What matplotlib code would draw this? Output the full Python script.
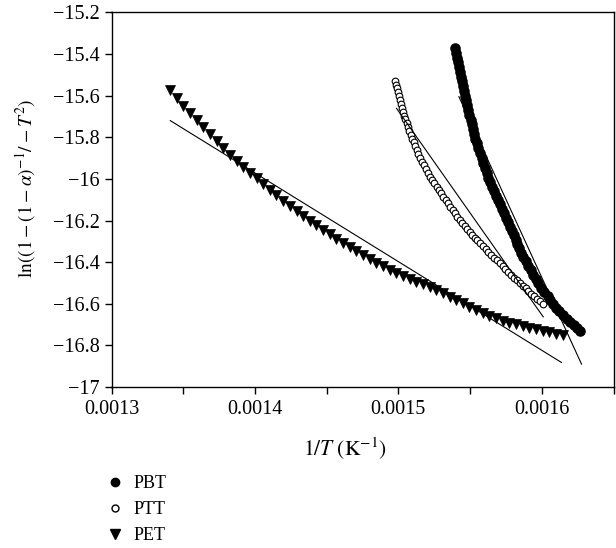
import matplotlib
matplotlib.use("Agg")
import matplotlib.pyplot as plt
from matplotlib.lines import Line2D
from matplotlib.ticker import FuncFormatter, MultipleLocator
import numpy as np

plt.rcParams.update({
    "font.family": "serif",
    "font.serif": ["Liberation Serif", "DejaVu Serif"],
    "mathtext.fontset": "stix",
    "font.size": 14.5,
    "axes.linewidth": 1.0,
})

# 1/T values are given in units of 1e-4 K^-1
pbt_x = [15.394, 15.402, 15.409, 15.417, 15.425, 15.432,
         15.440, 15.447, 15.453, 15.460, 15.466, 15.473, 15.479,
         15.486, 15.494, 15.503, 15.511, 15.520, 15.528, 15.537,
         15.545, 15.557, 15.568, 15.580, 15.592, 15.603,
         15.615, 15.628, 15.642, 15.655, 15.668, 15.682,
         15.695, 15.709, 15.722, 15.736, 15.750, 15.763,
         15.777, 15.790, 15.804, 15.817, 15.830, 15.843, 15.857,
         15.870, 15.887, 15.905, 15.922, 15.939, 15.957,
         15.974, 15.996, 16.018, 16.040, 16.060, 16.080, 16.100,
         16.120, 16.147, 16.173, 16.200, 16.222, 16.243, 16.265]
pbt_y = [-15.371, -15.394, -15.417, -15.440, -15.463, -15.486,
         -15.509, -15.532, -15.555, -15.578, -15.600, -15.623, -15.646,
         -15.669, -15.692, -15.715, -15.738, -15.760, -15.783, -15.806,
         -15.829, -15.853, -15.877, -15.902, -15.926, -15.950,
         -15.974, -15.995, -16.017, -16.038, -16.059, -16.081,
         -16.102, -16.123, -16.145, -16.166, -16.187, -16.209,
         -16.230, -16.251, -16.271, -16.292, -16.313, -16.334, -16.354,
         -16.375, -16.396, -16.417, -16.439, -16.460, -16.481,
         -16.502, -16.523, -16.544, -16.565, -16.583, -16.600, -16.618,
         -16.635, -16.653, -16.672, -16.690, -16.704, -16.718, -16.732]

ptt_x = [14.980, 14.986, 14.992, 14.998, 15.004,
         15.010, 15.018, 15.026, 15.033, 15.041, 15.049,
         15.057, 15.067, 15.077, 15.087, 15.097, 15.107, 15.117,
         15.127, 15.140, 15.154, 15.167, 15.180, 15.193, 15.207,
         15.220, 15.235, 15.251, 15.266, 15.281, 15.297,
         15.312, 15.329, 15.345, 15.362, 15.379, 15.396, 15.412,
         15.429, 15.446, 15.464, 15.481, 15.499, 15.516, 15.533, 15.551,
         15.568, 15.588, 15.608, 15.628, 15.647, 15.667, 15.687,
         15.707, 15.727, 15.747, 15.767, 15.787, 15.807, 15.827,
         15.847, 15.867, 15.887, 15.906, 15.926, 15.946, 15.966, 15.985,
         16.005]
ptt_y = [-15.528, -15.547, -15.565, -15.584, -15.602,
         -15.621, -15.640, -15.658, -15.677, -15.696, -15.714,
         -15.733, -15.751, -15.770, -15.788, -15.807, -15.825, -15.844,
         -15.862, -15.880, -15.899, -15.917, -15.935, -15.953, -15.972,
         -15.990, -16.006, -16.022, -16.038, -16.054, -16.070,
         -16.086, -16.102, -16.118, -16.134, -16.150, -16.166, -16.182,
         -16.198, -16.212, -16.226, -16.240, -16.254, -16.268, -16.282, -16.296,
         -16.310, -16.324, -16.337, -16.351, -16.365, -16.379, -16.392,
         -16.406, -16.420, -16.433, -16.447, -16.461, -16.475, -16.488,
         -16.502, -16.514, -16.526, -16.538, -16.551, -16.563, -16.575, -16.587,
         -16.599]

pet_x = [13.408, 13.454, 13.501, 13.547, 13.594, 13.640, 13.686, 13.733,
         13.779, 13.826, 13.872, 13.918, 13.965, 14.011, 14.058, 14.104,
         14.150, 14.197, 14.243, 14.290, 14.336, 14.382, 14.429, 14.475,
         14.522, 14.568, 14.614, 14.661, 14.707, 14.754, 14.800, 14.846,
         14.893, 14.939, 14.986, 15.032, 15.078, 15.125, 15.171, 15.218,
         15.264, 15.310, 15.357, 15.403, 15.450, 15.496, 15.542, 15.589,
         15.635, 15.682, 15.728, 15.774, 15.821, 15.867, 15.914, 15.960,
         16.006, 16.053, 16.099, 16.146]
pet_y = [-15.573, -15.611, -15.650, -15.685, -15.717, -15.749, -15.782, -15.818,
         -15.852, -15.885, -15.914, -15.943, -15.971, -15.997, -16.024, -16.051,
         -16.077, -16.105, -16.130, -16.154, -16.178, -16.200, -16.223, -16.244,
         -16.267, -16.287, -16.307, -16.327, -16.347, -16.367, -16.384, -16.402,
         -16.420, -16.437, -16.451, -16.466, -16.480, -16.494, -16.507, -16.520,
         -16.534, -16.550, -16.566, -16.582, -16.598, -16.614, -16.630, -16.646,
         -16.660, -16.670, -16.681, -16.691, -16.699, -16.707, -16.715, -16.722,
         -16.729, -16.737, -16.744, -16.751]

# linear fits (end points)
fit_pbt_x, fit_pbt_y = [15.422, 16.277], [-15.605, -16.890]
fit_ptt_x, fit_ptt_y = [14.987, 16.010], [-15.661, -16.663]
fit_pet_x, fit_pet_y = [13.410, 16.137], [-15.720, -16.882]

labels = ["PBT", "PTT", "PET"]

S = 1e-4
fig = plt.figure(figsize=(6.16, 5.48), dpi=100)
ax = fig.add_axes([111.5 / 616, 1 - 387 / 548, 502 / 616, 374.6 / 548])

ax.plot(np.array(pbt_x) * S, pbt_y, "o", ms=6.6, color="black", mec="black", zorder=2)
ax.plot(np.array(ptt_x) * S, ptt_y, "o", ms=4.8, mfc="white", mec="black", mew=0.8, zorder=3)
ax.plot(np.array(pet_x) * S, pet_y, "v", ms=7.2, color="black", mec="black", mew=0.5, zorder=2)
for fx, fy in [(fit_pbt_x, fit_pbt_y), (fit_ptt_x, fit_ptt_y), (fit_pet_x, fit_pet_y)]:
    ax.plot(np.array(fx) * S, fy, "-", color="black", lw=0.8, zorder=4)

ax.set_xlim(0.0013, 0.00165)
ax.set_ylim(-17, -15.2)
ax.xaxis.set_major_locator(MultipleLocator(0.0001))
ax.xaxis.set_minor_locator(MultipleLocator(0.00005))
ax.xaxis.set_major_formatter(FuncFormatter(lambda v, p: f"{v:.4f}"))
ax.yaxis.set_major_locator(MultipleLocator(0.2))
ax.yaxis.set_major_formatter(FuncFormatter(lambda v, p: f"{v:g}".replace("-", "\u2212")))
ax.tick_params(which="both", direction="out", length=5, width=1.0, top=False, right=False)
ax.tick_params(axis="x", pad=4)

ax.set_xlabel(r"$1/T\ (\mathrm{K}^{-1})$", fontsize=15.5)
ax.xaxis.set_label_coords(0.465, -0.13)
ax.set_ylabel(r"$\ln((1-(1-\alpha)^{-1}/-T^{2})$", fontsize=14)
ax.yaxis.label.set_va("center")
ax.yaxis.set_label_coords(-0.172, 0.53)

handles = [
    Line2D([], [], ls="none", marker="o", ms=6, color="black"),
    Line2D([], [], ls="none", marker="o", ms=5, mfc="white", mec="black", mew=1.0),
    Line2D([], [], ls="none", marker="v", ms=6.5, color="black"),
]
fig.legend(handles, labels, loc="upper left", bbox_to_anchor=(0.175, 0.133),
           frameon=False, fontsize=13, borderpad=0, borderaxespad=0,
           handlelength=0.8, handletextpad=0.6, labelspacing=0.5)

fig.savefig("out.png", dpi=100)
